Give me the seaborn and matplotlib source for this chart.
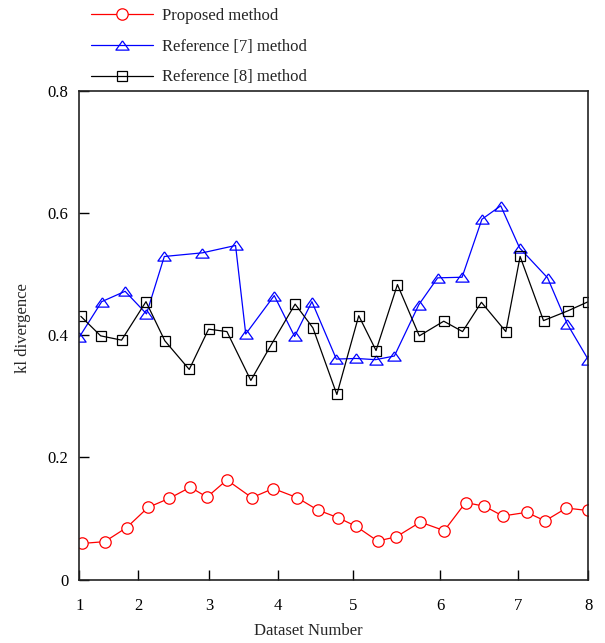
import matplotlib
matplotlib.use("Agg")
import matplotlib.pyplot as plt
import seaborn as sns
import pandas as pd

# ---- data (x = position along the axis, 0 = left edge, 1 = right edge) ----
proposed_x = [0.005, 0.050, 0.093, 0.135, 0.177, 0.218, 0.251, 0.290, 0.339, 0.381,
              0.428, 0.468, 0.509, 0.544, 0.586, 0.623, 0.670, 0.717, 0.759, 0.796,
              0.832, 0.879, 0.915, 0.957, 0.999]
proposed_y = [0.059, 0.062, 0.085, 0.118, 0.133, 0.151, 0.135, 0.163, 0.134, 0.149,
              0.134, 0.114, 0.101, 0.087, 0.063, 0.070, 0.094, 0.080, 0.126, 0.120,
              0.104, 0.110, 0.096, 0.117, 0.113]

ref7_x = [0.000, 0.044, 0.090, 0.132, 0.167, 0.242, 0.307, 0.327, 0.383, 0.423,
          0.457, 0.505, 0.544, 0.582, 0.619, 0.667, 0.704, 0.752, 0.791, 0.828,
          0.865, 0.920, 0.959, 1.000]
ref7_y = [0.397, 0.455, 0.472, 0.435, 0.529, 0.535, 0.547, 0.402, 0.465, 0.398,
          0.455, 0.361, 0.362, 0.360, 0.366, 0.450, 0.494, 0.495, 0.590, 0.612,
          0.543, 0.494, 0.418, 0.360]

ref8_x = [0.003, 0.042, 0.083, 0.131, 0.168, 0.216, 0.254, 0.290, 0.337, 0.376,
          0.424, 0.459, 0.506, 0.549, 0.583, 0.625, 0.668, 0.716, 0.753, 0.790,
          0.838, 0.866, 0.912, 0.960, 1.000]
ref8_y = [0.431, 0.399, 0.392, 0.455, 0.391, 0.344, 0.410, 0.406, 0.326, 0.383,
          0.451, 0.412, 0.303, 0.432, 0.375, 0.483, 0.399, 0.423, 0.406, 0.454,
          0.406, 0.529, 0.424, 0.440, 0.455]

x_tick_pos = [0.0, 0.1159, 0.2548, 0.3898, 0.5371, 0.7086, 0.8625, 1.0]
x_tick_labels = ["1", "2", "3", "4", "5", "6", "7", "8"]
y_ticks = [0, 0.2, 0.4, 0.6, 0.8]
y_tick_labels = ["0", "0.2", "0.4", "0.6", "0.8"]

labels = ["Proposed method", "Reference [7] method", "Reference [8] method"]

# ---- style ----
sns.set_style("ticks")
plt.rcParams["font.family"] = ["Liberation Serif", "DejaVu Serif"]

fig = plt.figure(figsize=(6.05, 6.43), dpi=100)
ax = fig.add_axes([79.3 / 605, 1 - 579.5 / 643, (588.3 - 79.3) / 605, (579.5 - 91) / 643])

df_p = pd.DataFrame({"x": proposed_x, "y": proposed_y})
df_7 = pd.DataFrame({"x": ref7_x, "y": ref7_y})
df_8 = pd.DataFrame({"x": ref8_x, "y": ref8_y})

tri = [(0, 0.7), (-1, -0.7), (1, -0.7), (0, 0.7)]

sns.lineplot(data=df_p, x="x", y="y", ax=ax, color="#ff0000", lw=0.9,
             marker="o", markersize=8.2, markerfacecolor="white",
             markeredgecolor="#ff0000", markeredgewidth=0.9, label=labels[0],
             legend=False)
sns.lineplot(data=df_7, x="x", y="y", ax=ax, color="#0000ff", lw=0.9,
             marker=tri, markersize=9.5, markerfacecolor="none",
             markeredgecolor="#0000ff", markeredgewidth=0.9, label=labels[1],
             legend=False)
sns.lineplot(data=df_8, x="x", y="y", ax=ax, color="black", lw=0.9,
             marker="s", markersize=7.3, markerfacecolor="none",
             markeredgecolor="black", markeredgewidth=0.9, label=labels[2],
             legend=False)

ax.set_xlim(0, 1)
ax.set_ylim(0, 0.8)
ax.set_xticks(x_tick_pos)
ax.set_xticklabels(x_tick_labels)
ax.set_yticks(y_ticks)
ax.set_yticklabels(y_tick_labels)
ax.tick_params(axis="both", direction="in", length=7, width=1, labelsize=12,
               color="black", labelcolor="black")
ax.tick_params(axis="x", pad=13)
ax.tick_params(axis="y", pad=8)

for s in ax.spines.values():
    s.set_visible(True)
    s.set_color("#222222")
    s.set_linewidth(1.2)

ax.set_xlabel("Dataset Number", fontsize=12)
ax.set_ylabel("kl divergence", fontsize=12)
ax.xaxis.set_label_coords(0.45, -0.09)
ax.yaxis.set_label_coords(-0.095, 0.515)

handles, labs = ax.get_legend_handles_labels()
fig.legend(handles, labs, loc="upper left", bbox_to_anchor=(91 / 605, 1 - 8 / 643),
           frameon=False, fontsize=12, handlelength=3.7, handletextpad=0.55,
           labelspacing=0.88, borderpad=0, borderaxespad=0)

fig.savefig("out.png", dpi=100, facecolor="white")
